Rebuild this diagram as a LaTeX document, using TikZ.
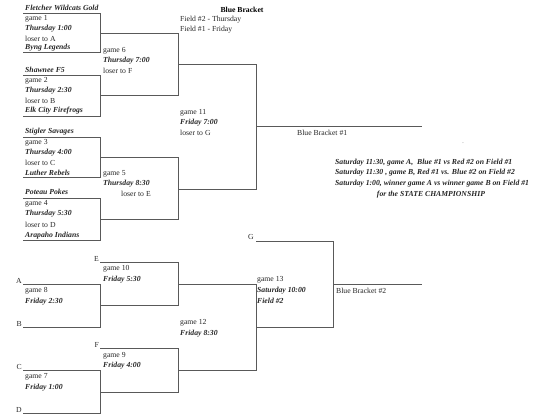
\documentclass[tikz,border=0pt]{standalone}
\usepackage{fontspec}
\setmainfont{Liberation Serif}
\begin{document}
\begin{tikzpicture}[x=1pt,y=-1pt,
  ln/.style={draw=black!65, line width=0.7pt},
  tx/.style={anchor=west, inner sep=0pt, text=black!85, font=\fontsize{7.7}{9}\selectfont},
  bt/.style={tx, font=\fontsize{7.7}{9}\selectfont\bfseries\itshape},
  lab/.style={anchor=east, inner sep=1pt, text=black!85, font=\fontsize{7.7}{9}\selectfont}]
\useasboundingbox (0,0) rectangle (549,420);
% ---------- header ----------
\node[font=\fontsize{7.7}{9}\selectfont\bfseries, inner sep=0pt] (hdr) at (242,10) {Blue Bracket};
\node[tx] (f2) at (180,20) {Field \#2 - Thursday};
\node[tx] (f1) at (180,30) {Field \#1 - Friday};
% ---------- top brackets ----------
\coordinate (a1) at (23,13);  \coordinate (a2) at (100,13);
\coordinate (a3) at (100,52); \coordinate (a4) at (23,52);
\draw[ln] (a1) -- (a2) -- (a3) -- (a4);
\coordinate (b1) at (23,75);  \coordinate (b2) at (100,75);
\coordinate (b3) at (100,116);\coordinate (b4) at (23,116);
\draw[ln] (b1) -- (b2) -- (b3) -- (b4);
\coordinate (c1) at (100,33); \coordinate (c2) at (178,33);
\coordinate (c3) at (178,95); \coordinate (c4) at (100,95);
\draw[ln] (c1) -- (c2) -- (c3) -- (c4);
\coordinate (d1) at (23,137); \coordinate (d2) at (100,137);
\coordinate (d3) at (100,177);\coordinate (d4) at (23,177);
\draw[ln] (d1) -- (d2) -- (d3) -- (d4);
\coordinate (e1) at (23,198); \coordinate (e2) at (100,198);
\coordinate (e3) at (100,240);\coordinate (e4) at (23,240);
\draw[ln] (e1) -- (e2) -- (e3) -- (e4);
\coordinate (f1c) at (100,157);\coordinate (f2c) at (178,157);
\coordinate (f3c) at (178,219);\coordinate (f4c) at (100,219);
\draw[ln] (f1c) -- (f2c) -- (f3c) -- (f4c);
\coordinate (g1) at (178,64); \coordinate (g2) at (256,64);
\coordinate (g3) at (256,189);\coordinate (g4) at (178,189);
\draw[ln] (g1) -- (g2) -- (g3) -- (g4);
\coordinate (o1a) at (256,126); \coordinate (o1b) at (422,126);
\draw[ln] (o1a) -- (o1b);
% ---------- top texts ----------
\node[bt] (t1) at (25,8) {Fletcher Wildcats Gold};
\node[tx] at (25,19) {game 1};
\node[bt] at (25,29) {Thursday 1:00};
\node[tx] at (25,39) {loser to A};
\node[bt] (t2) at (25,48) {Byng Legends};
\node[tx] at (103,51) {game 6};
\node[bt] at (103,61) {Thursday 7:00};
\node[tx] at (103,71) {loser to F};
\node[bt] (t3) at (25,70) {Shawnee F5};
\node[tx] at (25,81) {game 2};
\node[bt] at (25,91) {Thursday 2:30};
\node[tx] at (25,101) {loser to B};
\node[bt] (t4) at (25,111) {Elk City Firefrogs};
\node[bt] (t5) at (25,132) {Stigler Savages};
\node[tx] at (25,143) {game 3};
\node[bt] at (25,153) {Thursday 4:00};
\node[tx] at (25,163) {loser to C};
\node[bt] (t6) at (25,173) {Luther Rebels};
\node[tx] at (103,174) {game 5};
\node[bt] at (103,184) {Thursday 8:30};
\node[tx] at (121,194) {loser to E};
\node[bt] (t7) at (25,192) {Poteau Pokes};
\node[tx] at (25,204) {game 4};
\node[bt] at (25,214) {Thursday 5:30};
\node[tx] at (25,225) {loser to D};
\node[bt] (t8) at (25,236) {Arapaho Indians};
\node[tx] at (180,113) {game 11};
\node[bt] at (180,123) {Friday 7:00};
\node[tx] at (180,133) {loser to G};
\node[tx] (bb1) at (297,133) {Blue Bracket \#1};
\node[tx, text=black!40] (dot) at (462,143) {.};
\node[bt] (s1) at (335,163) {Saturday 11:30, game A,\ \ Blue \#1 vs Red \#2 on Field \#1};
\node[bt] (s2) at (335,173) {Saturday 11:30 , game B, Red \#1 vs. Blue \#2 on Field \#2};
\node[bt] (s3) at (335,184) {Saturday 1:00, winner game A vs winner game B on Field \#1};
\node[bt, anchor=center] (s4) at (431,195) {for the STATE CHAMPIONSHIP};
% ---------- lower brackets ----------
\node[lab] (A) at (23,281) {A};
\node[lab] (B) at (23,324) {B};
\node[lab] (C) at (23,367) {C};
\node[lab] (D) at (23,410) {D};
\node[lab] (E) at (100,259) {E};
\node[lab] (F) at (100,345) {F};
\node[lab] (G) at (255,237) {G};
\coordinate (h1) at (23,284); \coordinate (h2) at (100,284);
\coordinate (h3) at (100,327); \coordinate (h4) at (23,327);
\draw[ln] (h1) -- (h2) -- (h3) -- (h4);
\coordinate (i1) at (23,370); \coordinate (i2) at (100,370);
\coordinate (i3) at (100,413); \coordinate (i4) at (23,413);
\draw[ln] (i1) -- (i2) -- (i3) -- (i4);
\coordinate (j1) at (100,262); \coordinate (j2) at (178,262);
\coordinate (j3) at (178,305); \coordinate (j4) at (100,305);
\draw[ln] (j1) -- (j2) -- (j3) -- (j4);
\coordinate (k1) at (100,348); \coordinate (k2) at (178,348);
\coordinate (k3) at (178,392); \coordinate (k4) at (100,392);
\draw[ln] (k1) -- (k2) -- (k3) -- (k4);
\coordinate (l1) at (178,284); \coordinate (l2) at (256,284);
\coordinate (l3) at (256,370); \coordinate (l4) at (178,370);
\draw[ln] (l1) -- (l2) -- (l3) -- (l4);
\coordinate (m1) at (256,241); \coordinate (m2) at (333,241);
\coordinate (m3) at (333,327); \coordinate (m4) at (256,327);
\draw[ln] (m1) -- (m2) -- (m3) -- (m4);
\coordinate (o2a) at (333,284); \coordinate (o2b) at (422,284);
\draw[ln] (o2a) -- (o2b);
% ---------- lower texts ----------
\node[tx] at (103,269) {game 10};
\node[bt] at (103,280) {Friday 5:30};
\node[tx] at (25,291) {game 8};
\node[bt] at (25,302) {Friday 2:30};
\node[tx] at (103,356) {game 9};
\node[bt] at (103,366) {Friday 4:00};
\node[tx] at (25,377) {game 7};
\node[bt] at (25,388) {Friday 1:00};
\node[tx] at (180,323) {game 12};
\node[bt] at (180,334) {Friday 8:30};
\node[tx] at (257,280) {game 13};
\node[bt] at (257,291) {Saturday 10:00};
\node[bt] at (257,301) {Field \#2};
\node[tx] (bb2) at (336,291) {Blue Bracket \#2};
\end{tikzpicture}
\end{document}
